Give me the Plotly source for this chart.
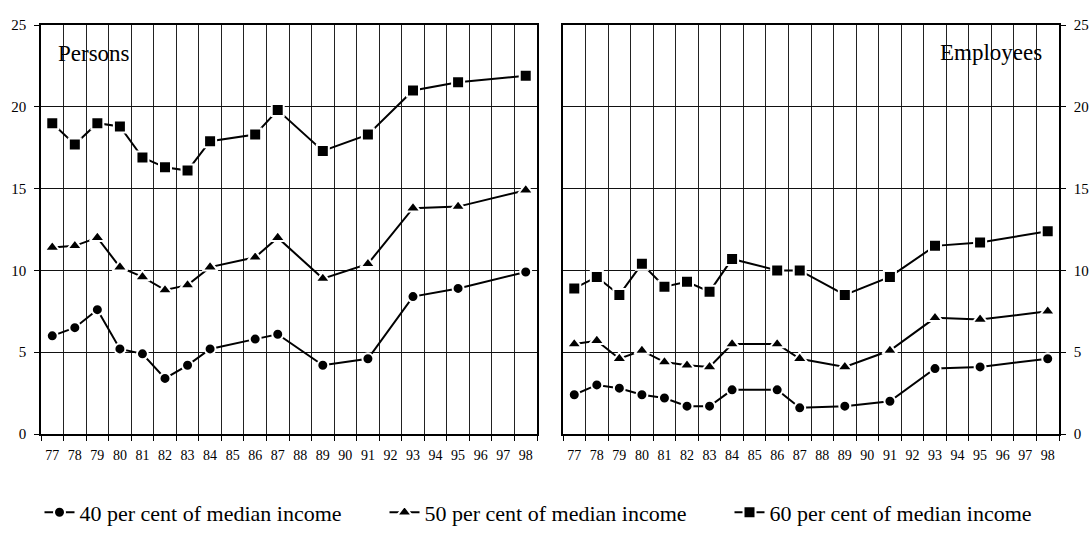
import plotly.graph_objects as go

all_years = [str(y) for y in range(77, 99)]
obs_years = ["77", "78", "79", "80", "81", "82", "83", "84", "86", "87", "89", "91", "93", "95", "98"]

persons_40 = [6.0, 6.5, 7.6, 5.2, 4.9, 3.4, 4.2, 5.2, 5.8, 6.1, 4.2, 4.6, 8.4, 8.9, 9.9]
persons_50 = [11.4, 11.5, 12.0, 10.2, 9.6, 8.8, 9.1, 10.2, 10.8, 12.0, 9.5, 10.4, 13.8, 13.9, 14.9]
persons_60 = [19.0, 17.7, 19.0, 18.8, 16.9, 16.3, 16.1, 17.9, 18.3, 19.8, 17.3, 18.3, 21.0, 21.5, 21.9]

employees_40 = [2.4, 3.0, 2.8, 2.4, 2.2, 1.7, 1.7, 2.7, 2.7, 1.6, 1.7, 2.0, 4.0, 4.1, 4.6]
employees_50 = [5.5, 5.7, 4.6, 5.1, 4.4, 4.2, 4.1, 5.5, 5.5, 4.6, 4.1, 5.1, 7.1, 7.0, 7.5]
employees_60 = [8.9, 9.6, 8.5, 10.4, 9.0, 9.3, 8.7, 10.7, 10.0, 10.0, 8.5, 9.6, 11.5, 11.7, 12.4]

series_names = ["40 per cent of median income", "50 per cent of median income", "60 per cent of median income"]
symbols = ["circle", "triangle-up", "square"]
sizes = [11, 13, 12]

FONT = "Liberation Serif, Times New Roman, serif"

W, H = 1090, 534
PLOT_TOP, PLOT_BOTTOM = 25, 442
PLOT_H = PLOT_BOTTOM - PLOT_TOP

fig = go.Figure()

panels = [
    ("x", "y", [persons_40, persons_50, persons_60], True),
    ("x2", "y2", [employees_40, employees_50, employees_60], False),
]
for xa, ya, data, show in panels:
    for name, sym, sz, vals in zip(series_names, symbols, sizes, data):
        fig.add_trace(go.Scatter(
            x=obs_years, y=vals, xaxis=xa, yaxis=ya,
            mode="lines+markers", name=name, showlegend=show,
            line=dict(color="black", width=2),
            marker=dict(symbol=sym, size=sz, color="black",
                        line=dict(color="white", width=2)),
        ))

xcommon = dict(
    type="category", categoryorder="array", categoryarray=all_years,
    range=[-0.5, 21.5], tickson="boundaries", showgrid=True,
    gridcolor="#222222", gridwidth=1, ticks="outside", ticklen=5,
    tickcolor="black", showline=True, linecolor="black", linewidth=1.5,
    mirror=True, tickangle=0, tickfont=dict(family=FONT, size=14, color="black"),
    ticklabelstandoff=7, zeroline=False, fixedrange=True,
)
ycommon = dict(
    range=[0, 25], tickvals=[0, 5, 10, 15, 20, 25], showgrid=True,
    gridcolor="#111111", gridwidth=1, ticks="outside", ticklen=5,
    tickcolor="black", showline=True, linecolor="black", linewidth=1.5,
    mirror=True, tickfont=dict(family=FONT, size=15, color="black"),
    zeroline=False, ticklabelstandoff=5, fixedrange=True,
)

fig.update_layout(
    width=W, height=H,
    margin=dict(l=0, r=0, t=PLOT_TOP, b=H - PLOT_BOTTOM),
    paper_bgcolor="white", plot_bgcolor="white",
    font=dict(family=FONT, color="black"),
    hovermode=False,
    xaxis=dict(domain=[41 / W, 537 / W], **xcommon),
    xaxis2=dict(domain=[563 / W, 1059 / W], **xcommon),
    yaxis=dict(anchor="x", side="left", **ycommon),
    yaxis2=dict(anchor="x2", side="right", **ycommon),
    legend=dict(orientation="h", x=0.5 + 12 / W, xanchor="center",
                y=(PLOT_BOTTOM - 522) / PLOT_H, yanchor="middle",
                font=dict(family=FONT, size=22, color="black"),
                entrywidth=300, entrywidthmode="pixels",
                tracegroupgap=0, bgcolor="rgba(0,0,0,0)"),
    annotations=[
        dict(text="Persons", xref="paper", yref="paper", x=56 / W, y=(PLOT_BOTTOM - 54) / PLOT_H,
             xanchor="left", yanchor="middle", showarrow=False,
             font=dict(family=FONT, size=23, color="black")),
        dict(text="Employees", xref="paper", yref="paper", x=1044 / W, y=(PLOT_BOTTOM - 53) / PLOT_H,
             xanchor="right", yanchor="middle", showarrow=False,
             font=dict(family=FONT, size=23, color="black")),
    ],
)

fig.write_html("out.html",
               config={"displayModeBar": False},
               post_script="document.body.style.margin='0px';document.body.style.overflow='hidden';")
